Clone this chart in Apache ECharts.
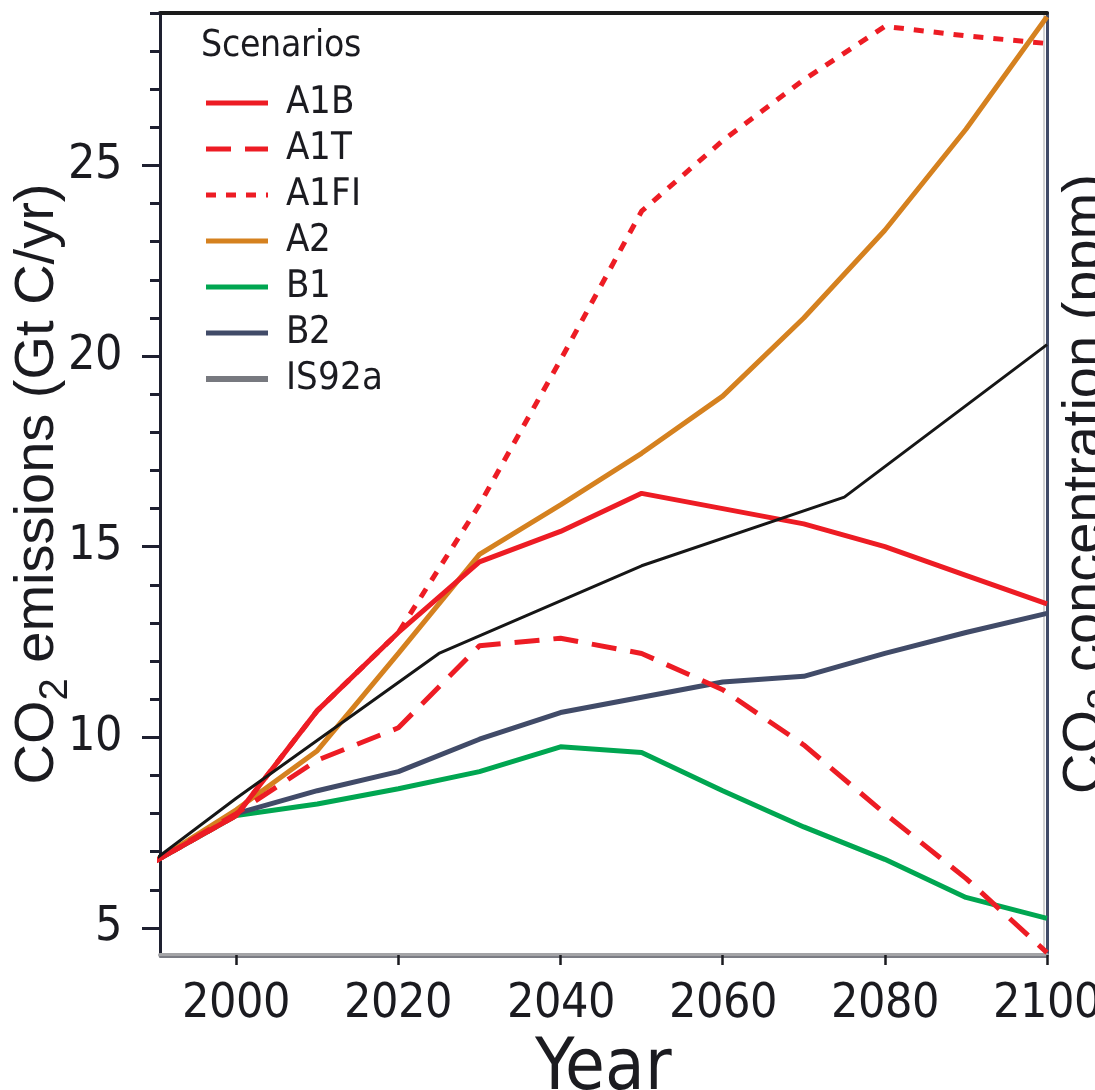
<!DOCTYPE html>
<html>
<head>
<meta charset="utf-8">
<script src="https://cdn.jsdelivr.net/npm/echarts@6/dist/echarts.min.js"></script>
<style>
@font-face {
  font-family: 'CondSans';
  src: local('DejaVu Sans Condensed'), local('DejaVuSansCondensed');
}
html, body { margin: 0; padding: 0; background: #ffffff; }
#chart { width: 1095px; height: 1090px; }
</style>
</head>
<body>
<div id="chart"></div>
<script>
// ---- data ----
const sresYears = [1990, 2000, 2010, 2020, 2030, 2040, 2050, 2060, 2070, 2080, 2090, 2100];
const a1b  = [6.75, 7.95, 10.7, 12.75, 14.6, 15.4, 16.4, 16.0, 15.6, 15.0, 14.25, 13.5];
const a1t  = [6.75, 8.0, 9.4, 10.25, 12.4, 12.6, 12.2, 11.25, 9.8, 8.0, 6.3, 4.35];
const a1fi = [6.75, 7.95, 10.7, 12.75, 16.1, 19.9, 23.8, 25.65, 27.25, 28.65, 28.4, 28.2];
const a2   = [6.75, 8.1, 9.65, 12.2, 14.8, 16.1, 17.45, 18.95, 21.0, 23.3, 25.95, 28.9];
const b1   = [6.75, 7.95, 8.25, 8.65, 9.1, 9.75, 9.6, 8.6, 7.65, 6.8, 5.8, 5.25];
const b2   = [6.75, 8.0, 8.6, 9.1, 9.95, 10.65, 11.05, 11.45, 11.6, 12.2, 12.75, 13.25];
const is92aYears = [1990, 2000, 2025, 2050, 2075, 2100];
const is92a = [6.8, 8.4, 12.2, 14.5, 16.3, 20.3];

const xTicks = [2000, 2020, 2040, 2060, 2080, 2100];
const yMajorTicks = [5, 10, 15, 20, 25];
const yMinorTicks = [5, 6, 7, 8, 9, 10, 11, 12, 13, 14, 15, 16, 17, 18, 19, 20, 21, 22, 23, 24, 25, 26, 27, 28, 29];
const legendNames = ['A1B', 'A1T', 'A1FI', 'A2', 'B1', 'B2', 'IS92a'];

// ---- helpers ----
const pairs = (xs, ys) => xs.map((x, i) => [x, ys[i]]);
const NARROW = "CondSans, 'Liberation Sans', Arial, sans-serif";
const SANS = "'Liberation Sans', Arial, sans-serif";
const INK = '#1b1b20';
const RED = '#ed1c24';
const ORANGE = '#d5811f';
const GREEN = '#00a651';
const NAVY = '#414b68';
const XMIN = 1990.6, XMAX = 2100, YMIN = 4.29, YMAX = 29;

const nameRich = {
  a: { fontFamily: SANS, fontSize: 56, color: INK, lineHeight: 56, verticalAlign: 'bottom', padding: [0, 0, 10, 0] },
  s: { fontFamily: SANS, fontSize: 40, color: INK, lineHeight: 40, verticalAlign: 'bottom' }
};

function line(name, data, color, width, type, z) {
  return {
    name: name, type: 'line', data: data, symbol: 'none', showSymbol: false, z: z,
    lineStyle: { color: color, width: width, type: type, cap: 'butt' },
    itemStyle: { color: color },
    emphasis: { disabled: true }
  };
}

function draw() {
  const chart = echarts.init(document.getElementById('chart'), null, { renderer: 'canvas' });
  chart.setOption({
    animation: false,
    backgroundColor: '#ffffff',
    grid: { left: 160, right: 48, top: 13, bottom: 135, containLabel: false, outerBoundsMode: 'none' },
    title: {
      text: 'Scenarios', left: 201, top: 28, padding: 0,
      textStyle: { fontFamily: NARROW, fontSize: 37, fontWeight: 'normal', color: INK }
    },
    legend: {
      orient: 'vertical', left: 203, top: 84, padding: 0,
      itemWidth: 62, itemHeight: 14, itemGap: 8,
      itemStyle: { opacity: 0 },
      textStyle: { fontFamily: NARROW, fontSize: 38, color: INK, padding: [0, 0, 0, 13] },
      data: legendNames.map(n => n === 'IS92a'
        ? { name: n, lineStyle: { color: '#77797f', width: 6 }, itemStyle: { opacity: 0 } }
        : { name: n, lineStyle: { width: 5 }, itemStyle: { opacity: 0 } })
    },
    xAxis: [
      {
        type: 'value', position: 'bottom', min: XMIN, max: XMAX,
        axisLine: { show: true, onZero: false, lineStyle: { color: '#a4a4a7', width: 4 } },
        axisTick: { show: true, customValues: xTicks, length: 10, lineStyle: { color: INK, width: 2.5 } },
        axisLabel: { customValues: xTicks, margin: 26, fontFamily: NARROW, fontSize: 48, color: INK,
                     formatter: v => String(v) },
        splitLine: { show: false },
        name: 'Year', nameLocation: 'middle', nameGap: 79, nameMoveOverlap: false,
        nameTextStyle: { fontFamily: NARROW, fontSize: 72, color: INK }
      },
      {
        type: 'value', position: 'bottom', offset: 2, min: XMIN, max: XMAX,
        axisLine: { show: true, onZero: false, lineStyle: { color: '#7b7c84', width: 2 } },
        axisTick: { show: false }, axisLabel: { show: false }, splitLine: { show: false }
      },
      {
        type: 'value', position: 'top', min: XMIN, max: XMAX,
        axisLine: { show: true, onZero: false, lineStyle: { color: '#1b1b1b', width: 4 } },
        axisTick: { show: false }, axisLabel: { show: false }, splitLine: { show: false }
      }
    ],
    yAxis: [
      {
        type: 'value', position: 'left', min: YMIN, max: YMAX,
        axisLine: { show: true, onZero: false, lineStyle: { color: '#1e2030', width: 3 } },
        axisTick: { show: true, customValues: yMajorTicks, length: 18, lineStyle: { color: '#1e2030', width: 3 } },
        axisLabel: { customValues: yMajorTicks, margin: 38, fontFamily: NARROW, fontSize: 48, color: INK },
        splitLine: { show: false },
        name: '{a|CO}{s|2}{a| emissions (Gt C/yr)}', nameLocation: 'middle', nameGap: 84,
        nameMoveOverlap: false,
        nameTextStyle: { rich: nameRich }
      },
      {
        type: 'value', position: 'left', min: YMIN, max: YMAX,
        axisLine: { show: false, onZero: false },
        axisTick: { show: true, customValues: yMinorTicks, length: 10, lineStyle: { color: '#1e2030', width: 3 } },
        axisLabel: { show: false }, splitLine: { show: false }
      },
      {
        type: 'value', position: 'right', min: YMIN, max: YMAX,
        axisLine: { show: true, onZero: false, lineStyle: { color: NAVY, width: 3 } },
        axisTick: { show: false }, axisLabel: { show: false }, splitLine: { show: false },
        name: '{a|CO}{s|2}{a| concentration (ppm)}', nameLocation: 'middle', nameGap: 21,
        nameMoveOverlap: false,
        nameTextStyle: { rich: nameRich }
      },
      {
        type: 'value', position: 'right', offset: -3, min: YMIN, max: YMAX,
        axisLine: { show: true, onZero: false, lineStyle: { color: '#d3d3d3', width: 2 } },
        axisTick: { show: false }, axisLabel: { show: false }, splitLine: { show: false }
      }
    ],
    series: [
      line('B1', pairs(sresYears, b1), GREEN, 5, 'solid', 2),
      line('B2', pairs(sresYears, b2), NAVY, 5, 'solid', 3),
      line('A2', pairs(sresYears, a2), ORANGE, 5, 'solid', 4),
      line('A1T', pairs(sresYears, a1t), RED, 5, [25, 14], 5),
      line('A1FI', pairs(sresYears, a1fi), RED, 5, [10, 10], 6),
      line('A1B', pairs(sresYears, a1b), RED, 5, 'solid', 7),
      line('IS92a', pairs(is92aYears, is92a), '#161616', 3, 'solid', 8)
    ]
  });
}

if (document.fonts && document.fonts.load) {
  Promise.all([document.fonts.load('42px CondSans'), document.fonts.load('56px "Liberation Sans"')])
    .then(draw, draw);
} else {
  draw();
}
</script>
</body>
</html>
